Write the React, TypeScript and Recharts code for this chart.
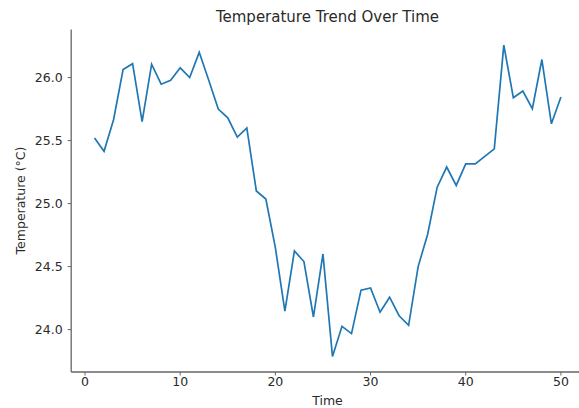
import { LineChart, Line, XAxis, YAxis } from 'recharts';

const times = [
  1, 2, 3, 4, 5, 6, 7, 8, 9, 10,
  11, 12, 13, 14, 15, 16, 17, 18, 19, 20,
  21, 22, 23, 24, 25, 26, 27, 28, 29, 30,
  31, 32, 33, 34, 35, 36, 37, 38, 39, 40,
  41, 42, 43, 44, 45, 46, 47, 48, 49, 50,
];

const temperatures = [
  25.52, 25.415, 25.665, 26.064, 26.11, 25.65, 26.106, 25.947, 25.978, 26.077,
  26.0, 26.2, 25.978, 25.75, 25.68, 25.527, 25.6, 25.1, 25.036, 24.65,
  24.146, 24.624, 24.54, 24.1, 24.6, 23.787, 24.026, 23.968, 24.313, 24.33,
  24.138, 24.257, 24.11, 24.034, 24.5, 24.757, 25.13, 25.29, 25.144, 25.315,
  25.315, 25.375, 25.434, 26.257, 25.84, 25.893, 25.753, 26.143, 25.633, 25.846,
];

const xTicks = [0, 10, 20, 30, 40, 50];
const yTicks = [24.0, 24.5, 25.0, 25.5, 26.0];

const data = times.map((t, i) => ({ time: t, temp: temperatures[i] }));

const FONT = '"DejaVu Sans", sans-serif';
const SPINE = '#666';
const TEXT = '#2a2a2a';

// the reference is cropped on the right, so the visible x range ends short of the full axis
const X_DOMAIN = [-1.45, 51.9];

export default function App() {
  return (
    <div style={{ position: 'absolute', left: 0, top: 0, width: 579, height: 408, overflow: 'hidden', background: '#fff' }}>
      <LineChart
        width={579}
        height={408}
        data={data}
        margin={{ top: 29.6, right: 0, bottom: 0, left: 11.2 }}
      >
        <XAxis
          xAxisId="top"
          orientation="top"
          dataKey="time"
          type="number"
          domain={X_DOMAIN}
          allowDataOverflow
          tick={false}
          tickLine={false}
          height={0}
          axisLine={{ stroke: SPINE, strokeWidth: 1.3 }}
        />
        <XAxis
          dataKey="time"
          type="number"
          domain={X_DOMAIN}
          allowDataOverflow
          ticks={xTicks}
          interval={0}
          height={36}
          tickSize={3.5}
          tickMargin={2}
          axisLine={{ stroke: SPINE, strokeWidth: 1.3 }}
          tickLine={{ stroke: SPINE }}
          tick={{ fill: TEXT, fontSize: 12.5, fontFamily: FONT }}
        />
        <YAxis
          type="number"
          domain={[23.6635, 26.3805]}
          ticks={yTicks}
          interval={0}
          width={60}
          tickSize={3.5}
          tickMargin={5}
          allowDataOverflow
          tickFormatter={(v: number) => v.toFixed(1)}
          axisLine={{ stroke: SPINE, strokeWidth: 1.3 }}
          tickLine={{ stroke: SPINE }}
          tick={{ fill: TEXT, fontSize: 12.5, fontFamily: FONT }}
        />
        <Line
          xAxisId={0}
          type="linear"
          dataKey="temp"
          stroke="#1f77b4"
          strokeWidth={1.7}
          dot={false}
          activeDot={false}
          isAnimationActive={false}
        />
      </LineChart>
      <svg
        width={579}
        height={408}
        style={{ position: 'absolute', left: 0, top: 0, pointerEvents: 'none' }}
      >
        <text x={327.5} y={22} textAnchor="middle" fontSize={15} fontFamily={FONT} fill={TEXT}>
          Temperature Trend Over Time
        </text>
        <text x={327.5} y={405} textAnchor="middle" fontSize={12.5} fontFamily={FONT} fill={TEXT}>
          Time
        </text>
        <text
          transform="translate(24.5, 200.5) rotate(-90)"
          textAnchor="middle"
          fontSize={12.5}
          fontFamily={FONT}
          fill={TEXT}
        >
          Temperature (°C)
        </text>
      </svg>
    </div>
  );
}
